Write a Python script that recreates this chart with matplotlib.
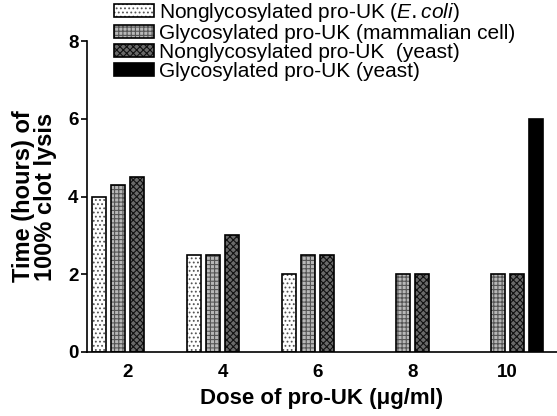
import numpy as np
import matplotlib
matplotlib.use("Agg")
import matplotlib.pyplot as plt
from matplotlib.patches import Patch

plt.rcParams['font.family'] = ['Liberation Sans', 'DejaVu Sans']
plt.rcParams['mathtext.fontset'] = 'custom'
plt.rcParams['mathtext.it'] = 'Liberation Sans:italic'
plt.rcParams['hatch.linewidth'] = 0.8

doses = [2, 4, 6, 8, 10]
ecoli = [4.0, 2.5, 2.0, np.nan, np.nan]
mammalian = [4.3, 2.5, 2.5, 2.0, 2.0]
yeast_nongly = [4.5, 3.0, 2.5, 2.0, 2.0]
yeast_gly = [np.nan, np.nan, np.nan, np.nan, 6.0]

labels = ["Nonglycosylated pro-UK ($\\it{E{.}coli}$)",
          "Glycosylated pro-UK (mammalian cell)",
          "Nonglycosylated pro-UK  (yeast)",
          "Glycosylated pro-UK (yeast)"]

series = [ecoli, mammalian, yeast_nongly, yeast_gly]
# face colour, hatch, hatch colour
styles = [("white", "....", "#555555"),
          ("#b8b8b8", "++++", "#555555"),
          ("#6a6a6a", "xxxxx", "#111111"),
          ("black", "", "black")]

fig = plt.figure(figsize=(5.57, 4.16), dpi=100)
ax = fig.add_axes([0.156, 0.154, 0.844, 0.747])

x = np.array(doses, dtype=float)
width = 0.29
step = 0.4
handles = []
for i, (vals, (fc, hatch, hc)) in enumerate(zip(series, styles)):
    pos = x + (i - 1.5) * step
    v = np.array(vals)
    ok = ~np.isnan(v)
    ax.bar(pos[ok], v[ok], width, color=fc, hatch=hatch, edgecolor=hc, linewidth=0)
    ax.bar(pos[ok], v[ok], width, fill=False, edgecolor="black", linewidth=1.2)
    handles.append((Patch(facecolor=fc, hatch=hatch, edgecolor=hc, linewidth=0),
                    Patch(fill=False, edgecolor="black", linewidth=1.2)))

ax.set_xlim(1.14, 11.05)
ax.set_ylim(0, 8)
ax.set_yticks([0, 2, 4, 6, 8])
ax.set_xticks(doses)
ax.spines['top'].set_visible(False)
ax.spines['right'].set_visible(False)
ax.spines['left'].set_linewidth(1.2)
ax.spines['bottom'].set_linewidth(1.2)
ax.tick_params(axis='x', length=0, pad=9)
ax.tick_params(axis='y', length=4, width=1.2, pad=2)
for t in ax.get_xticklabels() + ax.get_yticklabels():
    t.set_fontsize(13.5)
    t.set_fontweight('bold')

ax.set_xlabel("Dose of pro-UK (\u03bcg/ml)", fontsize=16, fontweight='bold', labelpad=5)
ax.set_ylabel("Time (hours) of\n100% clot lysis", fontsize=17, fontweight='bold',
              linespacing=0.95, labelpad=8)

fig.legend(handles, labels, loc='upper left', bbox_to_anchor=(0.205, 0.998),
           frameon=False, fontsize=15, handlelength=1.9, handleheight=0.62,
           handletextpad=0.25, labelspacing=0.0, borderaxespad=0, borderpad=0)

fig.savefig("out.png", dpi=100)
